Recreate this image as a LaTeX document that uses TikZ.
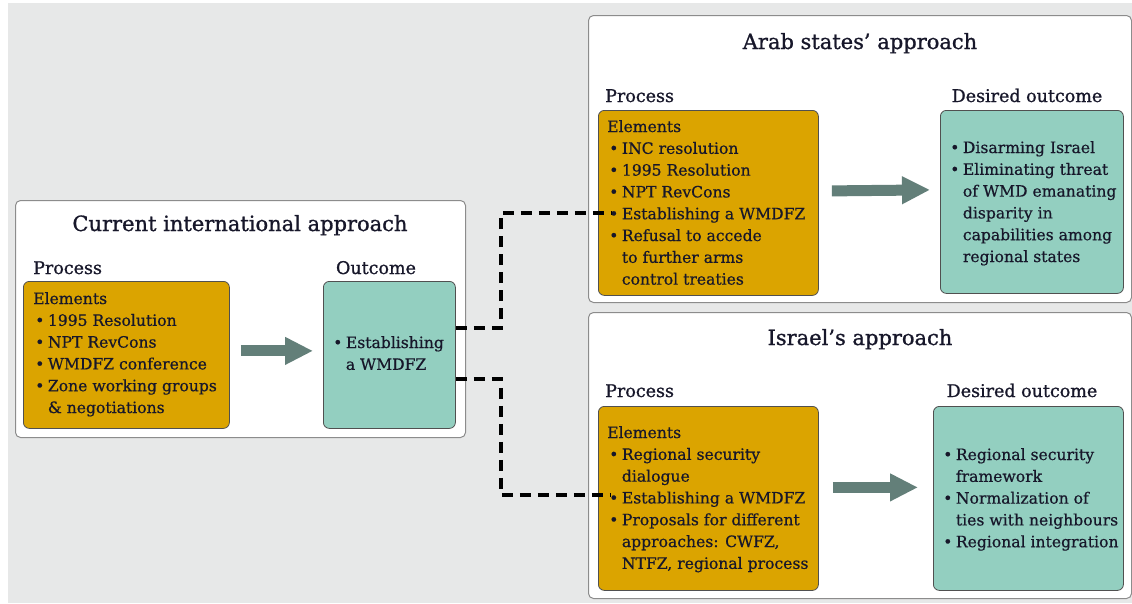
\documentclass[tikz,border=0pt]{standalone}
\usepackage{fontspec}
\setmainfont{DejaVu Serif}[FakeBold=0.6]
\newfontfamily\headfont{DejaVu Serif}[FakeBold=1.0]
\usetikzlibrary{arrows.meta}
\definecolor{bgc}{HTML}{E7E8E8}
\definecolor{orng}{HTML}{DBA400}
\definecolor{tealc}{HTML}{93CFC0}
\definecolor{arrc}{HTML}{637F79}
\definecolor{txtc}{HTML}{17172A}
\definecolor{framec}{HTML}{8C8C8C}
\definecolor{inframe}{HTML}{505050}
\newcommand\bl{\textbullet}
\newcommand\bodyfont{\fontsize{15.6}{21.8}\selectfont}
\newcommand\lst[1]{\begin{tabular}[t]{@{\hspace{2pt}}l@{\hspace{3.5pt}}l@{}}#1\end{tabular}}
\newcommand\hd[1]{\multicolumn{2}{@{}l@{}}{#1}}
\begin{document}
\begin{tikzpicture}[x=1pt,y=-1pt,
  panel/.style={draw=framec,fill=white,line width=1pt,rounded corners=5pt,anchor=north west,inner sep=0pt},
  procbox/.style={draw=inframe,fill=orng,line width=0.8pt,rounded corners=6pt,anchor=north west,inner sep=0pt},
  outbox/.style={draw=inframe,fill=tealc,line width=0.8pt,rounded corners=6pt,anchor=north west,inner sep=0pt},
  ttl/.style={font=\headfont\fontsize{21}{25}\selectfont,text=txtc,anchor=base,inner sep=0pt},
  sec/.style={font=\headfont\fontsize{17.5}{20}\selectfont,text=txtc,inner sep=0pt},
  lsttxt/.style={font=\bodyfont,text=txtc,anchor=base west,inner sep=0pt},
  bigarrow/.style={arrc,line width=11pt,-{Triangle[length=28pt,width=26pt]}},
  conn/.style={black,line width=3.2pt,dash pattern=on 11pt off 7pt}]
\useasboundingbox (0,0) rectangle (1132,603);
\fill[white] (0,0) rectangle (1132,603);
\fill[bgc] (8,3) rectangle (1132,603);

% ---------- Current international approach ----------
\node[panel,minimum width=450pt,minimum height=237pt] (cur) at (15,200) {};
\node[ttl] (curt) at (240,231) {Current international approach};
\node[sec,anchor=base west] (curp) at (33,274) {Process};
\node[sec,anchor=base] (curo) at (376,274) {Outcome};
\node[procbox,minimum width=206pt,minimum height=147pt] (pc) at (23,281) {};
\node[outbox,minimum width=132pt,minimum height=147pt] (oc) at (323,281) {};
\node[lsttxt] (pct) at (33,304) {\lst{\hd{Elements}\\
 \bl & 1995 Resolution\\
 \bl & NPT RevCons\\
 \bl & WMDFZ conference\\
 \bl & Zone working groups\\
     & \& negotiations}};
\node[lsttxt] (oct) at (331,348) {\lst{\bl & Establishing\\ & a WMDFZ}};
\draw[bigarrow] ([xshift=11pt,yshift=4pt]pc.east) -- ([xshift=-10pt,yshift=4pt]oc.west);

% ---------- Arab states' approach ----------
\node[panel,minimum width=543pt,minimum height=287pt] (arab) at (588,15) {};
\node[ttl] (arabt) at (860,49) {Arab states’ approach};
\node[sec,anchor=base west] (arabp) at (605,102) {Process};
\node[sec,anchor=base] (arabo) at (1027,102) {Desired outcome};
\node[procbox,minimum width=220pt,minimum height=185pt] (pa) at (598,110) {};
\node[outbox,minimum width=183pt,minimum height=183pt] (oa) at (940,110) {};
\node[lsttxt] (pat) at (607,132) {\lst{\hd{Elements}\\
 \bl & INC resolution\\
 \bl & 1995 Resolution\\
 \bl & NPT RevCons\\
 \bl & Establishing a WMDFZ\\
 \bl & Refusal to accede\\
     & to further arms\\
     & control treaties}};
\node[lsttxt] (oat) at (948,153) {\lst{\bl & Disarming Israel\\
 \bl & Eliminating threat\\
     & of WMD emanating\\
     & disparity in\\
     & capabilities among\\
     & regional states}};
\draw[bigarrow] ([xshift=13pt,yshift=12pt]pa.east) -- ([xshift=-10pt,yshift=12pt]oa.west);

% ---------- Israel's approach ----------
\node[panel,minimum width=543pt,minimum height=286pt] (isr) at (588,312) {};
\node[ttl] (isrt) at (860,345) {Israel’s approach};
\node[sec,anchor=base west] (isrp) at (605,397) {Process};
\node[sec,anchor=base] (isro) at (1022,397) {Desired outcome};
\node[procbox,minimum width=220pt,minimum height=184pt] (pi) at (598,406) {};
\node[outbox,minimum width=190pt,minimum height=184pt] (oi) at (933,406) {};
\node[lsttxt] (pit) at (607,438) {\lst{\hd{Elements}\\
 \bl & Regional security\\
     & dialogue\\
 \bl & Establishing a WMDFZ\\
 \bl & Proposals for different\\
     & approaches: CWFZ,\\
     & NTFZ, regional process}};
\node[lsttxt] (oit) at (941,460) {\lst{\bl & Regional security\\
     & framework\\
 \bl & Normalization of\\
     & ties with neighbours\\
 \bl & Regional integration}};
\draw[bigarrow] ([xshift=14pt,yshift=11pt]pi.east) -- ([xshift=-15pt,yshift=11pt]oi.west);

% ---------- dashed connectors ----------
\coordinate (ea) at (611,213);
\coordinate (ei) at (611,495);
\coordinate (ja) at (501,328);
\coordinate (ji) at (501,379);
\draw[conn] (oc.east |- ja) -- (ja) |- (ea);
\draw[conn] (oc.east |- ji) -- (ji) |- (ei);
\end{tikzpicture}
\end{document}
